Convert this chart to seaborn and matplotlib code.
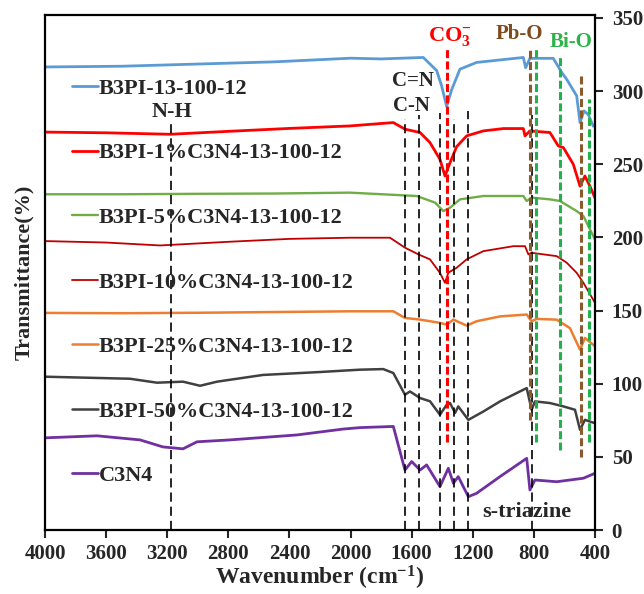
import numpy as np
import pandas as pd
import matplotlib
matplotlib.use("Agg")
import matplotlib.pyplot as plt
import seaborn as sns

sns.set_style("ticks")
plt.rcParams['font.family'] = ['Liberation Serif', 'DejaVu Serif']
plt.rcParams['font.weight'] = 'bold'
plt.rcParams['axes.labelweight'] = 'bold'
plt.rcParams['mathtext.default'] = 'regular'

# ---- spectra (wavenumber, transmittance offset) ----
wn_b3pi = [4000, 3500, 3000, 2500, 2000, 1800, 1524, 1436, 1404, 1371, 1338, 1284, 1175,
           869, 854, 826, 673, 618, 585, 520, 498, 472, 444, 411]
t_b3pi = [316.5, 317, 318.5, 320, 322.5, 322, 323, 314, 303.6, 289.5, 301, 315, 319.6,
          323, 316, 322.4, 322.4, 312.8, 308, 296.8, 278.5, 286.5, 284, 276]

wn_1 = [4000, 3600, 3180, 2800, 2400, 2004, 1720, 1644, 1545, 1480, 1415, 1382, 1349, 1306,
        1240, 1131, 1000, 869, 858, 826, 695, 640, 607, 542, 498, 466, 433, 400]
t_1 = [272, 271.5, 270.5, 272.5, 274.5, 276.2, 278.5, 274, 271.7, 264.8, 253.4, 242, 251, 262,
       269.4, 272.8, 274.4, 274.4, 269.4, 272.8, 271.7, 262.5, 261.4, 250, 235, 242, 235, 227]

wn_5 = [4000, 3500, 3000, 2500, 2004, 1567, 1447, 1393, 1349, 1284, 1131, 869, 847, 815,
        695, 629, 520, 476, 400]
t_5 = [229.5, 229.5, 229.8, 230, 230.6, 228.3, 223.8, 218, 220.3, 226, 228.3, 228.3, 224.9,
       227.2, 226, 224.9, 218, 214.6, 198.6]

wn_10 = [4000, 3600, 3247, 2800, 2400, 2004, 1742, 1644, 1556, 1480, 1415, 1382, 1360, 1327,
         1306, 1240, 1131, 935, 858, 836, 815, 651, 585, 520, 476, 400]
t_10 = [197.5, 196.5, 194.5, 197, 199, 199.8, 199.8, 193, 188.4, 185, 175.8, 169, 175.8, 178,
        179.2, 185, 190.6, 194, 194, 188.4, 189.5, 187.2, 182.7, 175.8, 169, 155.3]

wn_25 = [4000, 3500, 3000, 2500, 2004, 1720, 1644, 1545, 1415, 1371, 1327, 1240, 1175, 1022,
         847, 815, 782, 651, 564, 498, 466, 400]
t_25 = [148.4, 148.2, 148.5, 149, 149.5, 149.5, 145, 143.8, 141.6, 140.4, 143.8, 139.7, 142.7,
        146, 147.3, 142.7, 144.3, 143.8, 138, 123.3, 131.3, 125.6]

wn_50 = [4000, 3444, 3267, 3097, 2985, 2874, 2573, 2200, 1938, 1786, 1720, 1644, 1611, 1545,
         1480, 1415, 1371, 1349, 1316, 1295, 1229, 1131, 1022, 913, 847, 815, 793, 695, 607,
         531, 498, 466, 400]
t_50 = [104.8, 103.4, 100.7, 101.4, 98.6, 101.4, 106, 108, 109.6, 110, 107.3, 92.5, 94.7, 90.2,
        88, 78.8, 85.6, 86.8, 80, 84.5, 75.3, 81, 87.9, 93.6, 97, 82.2, 87.9, 86.8, 84.5,
        82.2, 68.5, 75.3, 73]

wn_c3n4 = [4000, 3660, 3378, 3228, 3097, 3005, 2789, 2350, 2050, 1938, 1720, 1644, 1600, 1545,
           1502, 1415, 1360, 1327, 1295, 1229, 1175, 1022, 847, 826, 793, 651, 476, 400]
t_c3n4 = [63, 64.4, 61.6, 56.8, 55.5, 60.3, 61.6, 65, 69, 70, 70.8, 41, 46.8, 41, 44.5, 29.7,
          42.2, 32, 36.5, 22.8, 25.1, 36.5, 49, 27.4, 34.2, 33, 35.4, 38.8]

labels = ["B3PI-13-100-12", "B3PI-1%C3N4-13-100-12", "B3PI-5%C3N4-13-100-12",
          "B3PI-10%C3N4-13-100-12", "B3PI-25%C3N4-13-100-12", "B3PI-50%C3N4-13-100-12", "C3N4"]
wn_all = [wn_b3pi, wn_1, wn_5, wn_10, wn_25, wn_50, wn_c3n4]
t_all = [t_b3pi, t_1, t_5, t_10, t_25, t_50, t_c3n4]
colors = ["#5B9BD5", "#FF0000", "#70AD47", "#C00000", "#ED7D31", "#404040", "#7030A0"]
widths = [2.0, 2.0, 1.7, 1.3, 1.8, 1.8, 2.0]

# marker lines: black (assignments), red CO3, brown Pb-O, green Bi-O
black_pos = [3175, 1644, 1550, 1415, 1321, 1229, 815]
black_top = [280, 281, 284, 285, 281, 286.5, 284]
co3_pos = [1368]
co3_top, co3_bot = [329], [60]
pbo_pos = [826, 490]
pbo_top, pbo_bot = [330, 311.6], [75, 50]
bio_pos = [786, 627, 437]
bio_top, bio_bot = [329, 324, 294.5], [60.5, 55, 60.5]

fig = plt.figure(figsize=(6.44, 5.94), dpi=100)
ax = fig.add_axes([0.0699, 0.1077, 0.8540, 0.8670])

for wn, t, lab, c, lw in zip(wn_all, t_all, labels, colors, widths):
    df = pd.DataFrame({"wn": wn, "T": t})
    sns.lineplot(data=df, x="wn", y="T", color=c, lw=lw, label=lab, ax=ax)

ax.vlines(black_pos, 0, black_top, colors="black", lw=1.2, linestyles=(0, (5.5, 3)), zorder=3)
ax.vlines(co3_pos, co3_bot, co3_top, colors="#FF0000", lw=2.2, linestyles=(0, (2.6, 1.1)), zorder=3)
ax.vlines(pbo_pos, pbo_bot, pbo_top, colors="#8B5A2B", lw=2.2, linestyles=(0, (2.6, 1.1)), zorder=3)
ax.vlines(bio_pos, bio_bot, bio_top, colors="#22B14C", lw=2.2, linestyles=(0, (2.6, 1.1)), zorder=3)

ax.text(1349, 337, r"CO$_\mathregular{3}^\mathregular{-}$", color="#FF0000", fontsize=16,
        ha="center", va="center")
ax.text(898, 339, "Pb-O", color="#7F4A1E", fontsize=15, ha="center", va="center")
ax.text(559, 333.5, "Bi-O", color="#2EB24A", fontsize=15, ha="center", va="center")
ax.text(1593, 307, "C=N", fontsize=15, ha="center", va="center")
ax.text(1600, 290, "C-N", fontsize=15, ha="center", va="center")
ax.text(3171, 285.8, "N-H", fontsize=16, ha="center", va="center")
ax.text(847, 12, "s-triazine", fontsize=16, ha="center", va="center")

ax.set_xlim(4000, 400)
ax.set_ylim(0, 352)
ax.set_xticks(np.arange(4000, 399, -400))
ax.set_yticks(np.arange(0, 351, 50))
ax.yaxis.tick_right()
ax.yaxis.set_label_position("left")
ax.tick_params(axis="both", direction="out", length=6, width=1.5, labelsize=15)
ax.tick_params(axis="x", pad=4)
ax.tick_params(axis="y", pad=6)
for s in ax.spines.values():
    s.set_linewidth(1.6)
    s.set_color("black")
ax.set_xlabel("Wavenumber (cm$^{-1}$)", fontsize=17, labelpad=0)
ax.set_ylabel("Transmittance(%)", fontsize=16, labelpad=8)

h, l = ax.get_legend_handles_labels()
ax.legend(h, l, loc="upper left", bbox_to_anchor=(0.049, 0.877), frameon=False, fontsize=16,
          handlelength=1.17, handletextpad=0.05, labelspacing=1.98, borderpad=0, borderaxespad=0)

fig.savefig("out.png", dpi=100)
